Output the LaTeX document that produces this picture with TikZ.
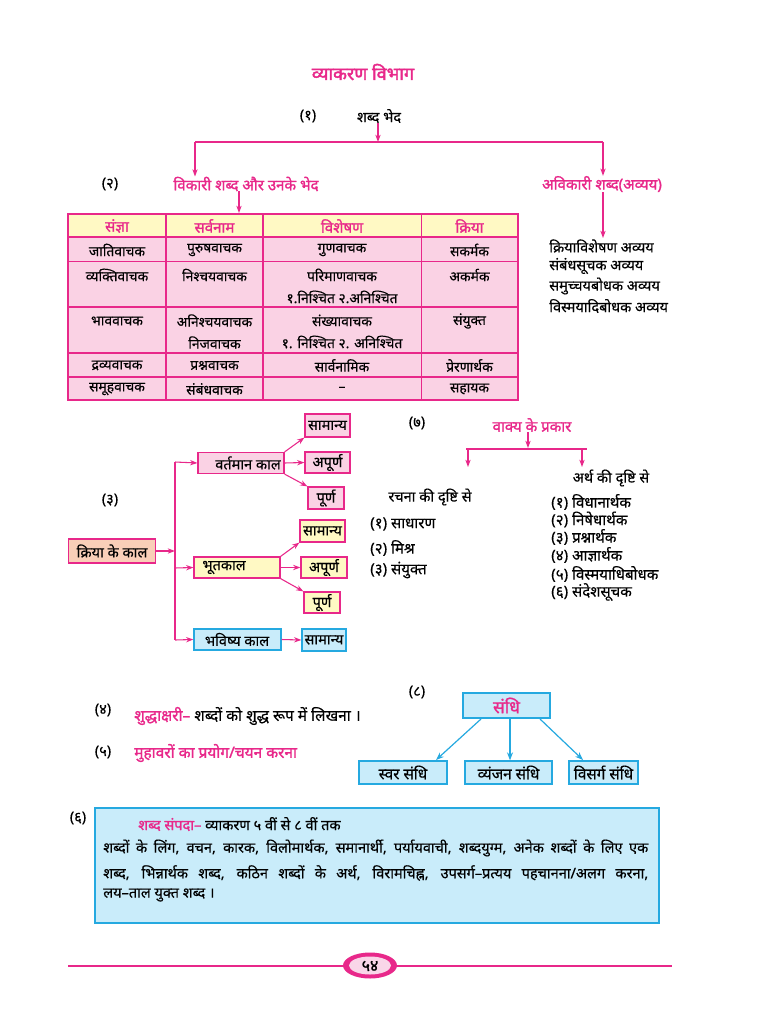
\documentclass[tikz,border=0pt]{standalone}
\usepackage{fontspec}
\setmainfont[Script=Devanagari,FakeBold=0.3]{Noto Sans}
\newfontfamily\bdev[Script=Devanagari,FakeBold=2.2]{Noto Sans}
\newfontfamily\sdev[Script=Devanagari,FakeBold=1.3]{Noto Sans}
\usetikzlibrary{arrows.meta}
\definecolor{mag}{HTML}{E8288A}
\definecolor{pinkfill}{HTML}{FAD2E4}
\definecolor{yelfill}{HTML}{FFF9C4}
\definecolor{peach}{HTML}{F9CFB8}
\definecolor{bluefill}{HTML}{C9ECFA}
\definecolor{blueline}{HTML}{25A9E0}
\definecolor{footpink}{HTML}{F9D6E8}
\newdimen\PX \PX=0.75pt
\begin{document}
\begin{tikzpicture}[x=0.75pt,y=-0.75pt,
  every node/.style={inner sep=0pt, font=\fontsize{10.9}{16.5}\selectfont},
  tab/.style={font=\fontsize{10.4}{16.5}\selectfont},
  mt/.style={text=mag},
  big/.style={font=\fontsize{11.3}{13}\selectfont\sdev},
  arr/.style={draw=mag, line width=0.8pt, -{Stealth[length=5.5pt,width=4pt]}},
  ln/.style={draw=mag, line width=0.8pt},
  barr/.style={draw=blueline, line width=0.9pt, -{Stealth[length=6pt,width=4.5pt]}},
  kbox/.style={draw=mag, line width=0.9pt, minimum height=#1},
  pbox/.style={kbox=21\PX, fill=pinkfill},
  ybox/.style={kbox=21\PX, fill=yelfill},
  cbox/.style={draw=blueline, line width=1pt, fill=bluefill, minimum height=21\PX},
  sbox/.style={draw=blueline, line width=1pt, fill=bluefill, minimum height=23\PX, font=\fontsize{11.5}{13}\selectfont},
  tl/.style={draw=mag, line width=1pt}
]
\useasboundingbox (0,0) rectangle (767,1024);
\fill[white] (0,0) rectangle (767,1024);

% ---------- title and (1)
\node[mt, font=\fontsize{13.5}{15}\selectfont\bdev] (title) at (363,72) {व्याकरण विभाग};
\node (n1) at (308,116) {(१)};
\node (sb) at (379,116) {शब्द भेद};
\coordinate (hmid) at (378,142);
\coordinate (hl) at (195,142);
\coordinate (hr) at (603,142);
\node[mt, big] (vikari) at (246,184) {विकारी शब्द और उनके भेद};
\node[mt, big] (avikari) at (602,184) {अविकारी शब्द(अव्यय)};
\node (n2) at (110,184) {(२)};
\draw[arr] (sb.south -| hmid) -- (hmid);
\draw[ln] (hl) -- (hr);
\draw[arr] (hl) -- (hl |- vikari.north);
\draw[arr] (hr) -- (hr |- avikari.north);

% ---------- avyay list
\coordinate (avt) at (603,238);
\draw[arr] (avikari.south -| avt) -- (avt);
\node[anchor=west] (a1) at (549,246) {क्रियाविशेषण अव्यय};
\node[anchor=west] (a2) at (549,266) {संबंधसूचक अव्यय};
\node[anchor=west] (a3) at (549,286) {समुच्चयबोधक अव्यय};
\node[anchor=west] (a4) at (549,306) {विस्मयादिबोधक अव्यय};

% ---------- table
\fill[yelfill] (68,214) rectangle (518,237);
\fill[pinkfill] (68,237) rectangle (518,400);
\foreach \yy in {237,261.5,307,353,377}
  \draw[tl] (68,\yy) -- (518,\yy);
\foreach \xx in {166,263,421.5}
  \draw[tl] (\xx,214) -- (\xx,400);
\draw[draw=mag, line width=1.3pt] (68,214) rectangle (518,400);
\coordinate (tabtop) at (239,213);
\draw[arr] (vikari.south -| tabtop) -- (tabtop);

\node[mt, big] (h1) at (117,226) {संज्ञा};
\node[mt, big] (h2) at (214.5,226) {सर्वनाम};
\node[mt, big] (h3) at (342,226) {विशेषण};
\node[mt, big] (h4) at (469.5,226) {क्रिया};

\begin{scope}[every node/.append style={tab}]
\node (c11) at (117,250) {जातिवाचक};
\node (c12) at (214.5,250) {पुरुषवाचक};
\node (c13) at (342,250) {गुणवाचक};
\node (c14) at (469.5,250) {सकर्मक};

\node (c21) at (117,275) {व्यक्तिवाचक};
\node (c22) at (214.5,275) {निश्चयवाचक};
\node[align=center] (c23) at (342,286) {परिमाणवाचक\\१.निश्चित २.अनिश्चित};
\node (c24) at (469.5,275) {अकर्मक};

\node (c31) at (117,321) {भाववाचक};
\node[align=center] (c32) at (214.5,331.5) {अनिश्चयवाचक\\निजवाचक};
\node[align=center] (c33) at (342,331.5) {संख्यावाचक\\१. निश्चित २. अनिश्चित};
\node (c34) at (469.5,321) {संयुक्त};

\node (c41) at (117,365.5) {द्रव्यवाचक};
\node (c42) at (214.5,365.5) {प्रश्नवाचक};
\node (c43) at (342,365.5) {सार्वनामिक};
\node (c44) at (469.5,365.5) {प्रेरणार्थक};

\node (c51) at (117,389) {समूहवाचक};
\node (c52) at (214.5,389) {संबंधवाचक};
\node (c53) at (342,389) {–};
\node (c54) at (469.5,389) {सहायक};
\end{scope}

% ---------- (3) kaal
\node (n3) at (110,500) {(३)};
\node[kbox=24\PX, fill=peach, minimum width=87\PX] (kaal) at (112,551) {क्रिया के काल};
\coordinate (vtop) at (175,462);
\coordinate (vmid) at (175,551);
\coordinate (vbhoot) at (175,568);
\coordinate (vbot) at (175,640);
\draw[ln] (vtop) -- (vbot);
\draw[arr] (kaal.east) -- (vmid);

\node[pbox, minimum width=86\PX] (vart) at (241,463) {};
\node at (248,463) {वर्तमान काल};
\node[ybox, minimum width=86\PX] (bhoot) at (237,567.5) {};
\node at (224,567.5) {भूतकाल};
\node[cbox, minimum width=87\PX] (bhav) at (237.5,639.5) {};
\node at (237,639.5) {भविष्य काल};
\draw[arr] (vtop) -- (vart.west);
\draw[arr] (vbhoot) -- (bhoot.west);
\draw[arr] (vbot) -- (bhav.west);

\node[pbox, minimum width=45\PX, minimum height=23\PX] (v1) at (327.5,425.5) {सामान्य};
\node[pbox, minimum width=45\PX] (v2) at (327.5,462.5) {अपूर्ण};
\node[pbox, minimum width=36\PX, minimum height=22\PX] (v3) at (326,498) {पूर्ण};
\draw[arr] (vart.north east) -- (v1.south west);
\draw[arr] (vart.east) -- (v2.west);
\draw[arr] (vart.south east) -- (v3.north west);

\node[ybox, minimum width=45\PX, minimum height=22\PX] (b1) at (322.5,531) {सामान्य};
\node[ybox, minimum width=46\PX] (b2) at (324,567.5) {अपूर्ण};
\node[ybox, minimum width=36\PX] (b3) at (322,602.5) {पूर्ण};
\draw[arr] (bhoot.north east) -- (b1.south west);
\draw[arr] (bhoot.east) -- (b2.west);
\draw[arr] (bhoot.south east) -- (b3.north west);

\node[cbox, minimum width=44\PX, minimum height=22\PX] (bh1) at (324,640) {सामान्य};
\draw[arr] (bhav.east) -- (bh1.west);

% ---------- (7) vakya
\node (n7) at (417,423) {(७)};
\node[mt, big] (vakya) at (532,425) {वाक्य के प्रकार};
\coordinate (vk) at (528,448);
\coordinate (vkl) at (466,449);
\coordinate (vkr) at (587,449);
\coordinate (vkla) at (468,449);
\coordinate (vkra) at (582,449);
\draw[arr] (vakya.south -| vk) -- (vk);
\draw[ln] (vkl) -- (vkr);
\node (artha) at (611,478) {अर्थ की दृष्टि से};
\node (rachna) at (430,497) {रचना की दृष्टि से};
\coordinate (vkld) at (468,467);
\coordinate (vkrd) at (582,467);
\draw[arr] (vkla) -- (vkld);
\draw[arr] (vkra) -- (vkrd);

\begin{scope}[every node/.append style={font=\fontsize{11.3}{13}\selectfont}]
\node[anchor=west] (r1) at (370,524) {(१) साधारण};
\node[anchor=west] (r2) at (370,548) {(२) मिश्र};
\node[anchor=west] (r3) at (370,570) {(३) संयुक्त};

\node[anchor=west] (s1) at (551,502) {(१) विधानार्थक};
\node[anchor=west] (s2) at (551,519.5) {(२) निषेधार्थक};
\node[anchor=west] (s3) at (551,537) {(३) प्रश्नार्थक};
\node[anchor=west] (s4) at (551,555) {(४) आज्ञार्थक};
\node[anchor=west] (s5) at (551,574) {(५) विस्मयाधिबोधक};
\node[anchor=west] (s6) at (551,592) {(६) संदेशसूचक};
\end{scope}

% ---------- (4) (5)
\node (n4) at (103,710) {(४)};
\node[anchor=west, font=\fontsize{11.6}{13}\selectfont] (shud) at (134,716) {{\sdev\textcolor{mag}{शुद्धाक्षरी–}} शब्दों को शुद्ध रूप में लिखना ।};
\node (n5) at (103,752) {(५)};
\node[anchor=west, mt, font=\fontsize{11.6}{13}\selectfont\sdev] (muha) at (134,753) {मुहावरों का प्रयोग/चयन करना};

% ---------- (8) sandhi
\node (n8) at (417,692) {(८)};
\node[sbox, minimum width=87\PX, minimum height=25\PX, mt, font=\fontsize{13}{14}\selectfont\sdev] (sandhi) at (506.5,705.5) {संधि};
\node[sbox, minimum width=88\PX] (sw) at (403,772.5) {स्वर संधि};
\node[sbox, minimum width=87\PX] (vy) at (508.5,772.5) {व्यंजन संधि};
\node[sbox, minimum width=69\PX] (vi) at (603.5,772.5) {विसर्ग संधि};
\coordinate (sa1) at (481,719);
\coordinate (sa2) at (510,719);
\coordinate (sa3) at (540,719);
\coordinate (swt) at (436,760);
\coordinate (vit) at (583,760);
\draw[barr] (sa1) -- (swt);
\draw[barr] (sa2) -- (vy.north -| sa2);
\draw[barr] (sa3) -- (vit);

% ---------- (6) box
\node (n6) at (78,818) {(६)};
\node[draw=blueline, line width=1.3pt, fill=bluefill, minimum width=564\PX, minimum height=115\PX] (sbox6) at (377,865.5) {};
\node[anchor=west] (sp) at (138,824) {{\sdev\textcolor{mag}{शब्द संपदा–}} व्याकरण ५ वीं से ८ वीं तक};
\node[anchor=west] (p1) at (103,848) {\makebox[545\PX][s]{शब्दों के लिंग, वचन, कारक, विलोमार्थक, समानार्थी, पर्यायवाची, शब्दयुग्म, अनेक शब्दों के लिए एक}};
\node[anchor=west] (p2) at (103,873) {\makebox[545\PX][s]{शब्द, भिन्नार्थक शब्द, कठिन शब्दों के अर्थ, विरामचिह्न, उपसर्ग–प्रत्यय पहचानना/अलग करना,}};
\node[anchor=west] (p3) at (103,895) {लय–ताल युक्त शब्द ।};

% ---------- footer
\coordinate (fl) at (68,966);
\coordinate (fr) at (672,966);
\draw[draw=mag, line width=1.6pt] (fl) -- (fr);
\fill[mag] (370,965.5) ellipse [x radius=27, y radius=13];
\fill[footpink] (370,965.5) ellipse [x radius=21, y radius=9];
\node[font=\fontsize{12}{13}\selectfont\sdev] (pg) at (370,966) {५४};
\end{tikzpicture}
\end{document}
